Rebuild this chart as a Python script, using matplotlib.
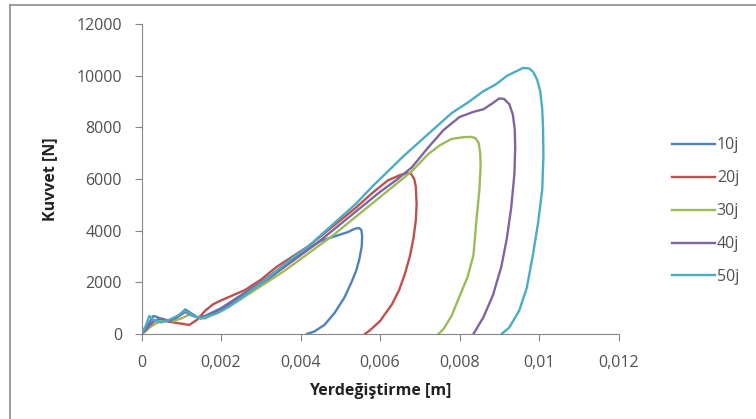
import matplotlib.pyplot as plt
from matplotlib.lines import Line2D
from matplotlib.ticker import FuncFormatter

# Kuvvet - yerdegistirme verileri
labels = ['10j', '20j', '30j', '40j', '50j']
colors = ['#4F81BD', '#C0504D', '#9BBB59', '#8064A2', '#4BACC6']

x10 = [0, 0.0001, 0.0002, 0.0003, 0.0004, 0.0006, 0.0008, 0.0010, 0.0011, 0.0012, 0.0014, 0.0016,
       0.0018, 0.0020, 0.0023, 0.0026, 0.0030, 0.0034, 0.0038, 0.0042, 0.0045, 0.0048, 0.0050,
       0.0052, 0.0053, 0.0054, 0.00548, 0.00553, 0.00555, 0.00554, 0.00548, 0.00540, 0.00528,
       0.00510, 0.00485, 0.00460, 0.00435, 0.00416]
y10 = [0, 200, 450, 700, 650, 500, 550, 800, 950, 850, 650, 700, 850, 1000, 1300, 1600, 2000,
       2450, 2900, 3300, 3600, 3750, 3850, 3950, 4030, 4090, 4100, 4020, 3800, 3400, 2900, 2450,
       2000, 1400, 800, 350, 100, 0]

x20 = [0, 0.0001, 0.0002, 0.0004, 0.0006, 0.0008, 0.0010, 0.0012, 0.0014, 0.0016, 0.0018, 0.0020,
       0.0023, 0.0026, 0.0030, 0.0034, 0.0038, 0.0042, 0.0046, 0.0050, 0.0054, 0.0058, 0.0062,
       0.0065, 0.00668, 0.00678, 0.00686, 0.00690, 0.00692, 0.00690, 0.00684, 0.00675, 0.00662,
       0.00648, 0.00630, 0.00600, 0.00575, 0.00562]
y20 = [0, 150, 300, 450, 500, 450, 400, 350, 550, 900, 1150, 1300, 1500, 1700, 2100, 2600, 3000,
       3400, 3900, 4400, 4900, 5450, 5950, 6150, 6230, 6200, 6000, 5700, 5000, 4400, 3700, 3000,
       2300, 1700, 1150, 500, 150, 0]

x30 = [0, 0.0001, 0.0002, 0.0004, 0.0006, 0.0008, 0.0010, 0.0012, 0.0014, 0.0016, 0.0018, 0.0020,
       0.0024, 0.0028, 0.0032, 0.0036, 0.0040, 0.0044, 0.0048, 0.0052, 0.0056, 0.0060, 0.0064,
       0.0068, 0.0072, 0.0075, 0.0078, 0.0081, 0.0083, 0.0084, 0.00848, 0.00852, 0.00853, 0.00850,
       0.00843, 0.00835, 0.00820, 0.00801, 0.00780, 0.00760, 0.00747]
y30 = [0, 100, 250, 450, 550, 500, 600, 750, 650, 600, 750, 900, 1250, 1650, 2050, 2450, 2900,
       3350, 3800, 4300, 4800, 5300, 5800, 6300, 6950, 7300, 7550, 7620, 7630, 7580, 7400, 7000,
       6500, 5600, 4500, 3050, 2200, 1500, 700, 200, 0]

x40 = [0, 0.0001, 0.0003, 0.0005, 0.0007, 0.0009, 0.0011, 0.0013, 0.0015, 0.0017, 0.0020, 0.0024,
       0.0028, 0.0032, 0.0036, 0.0040, 0.0044, 0.0048, 0.0052, 0.0056, 0.0060, 0.0064, 0.0068,
       0.0072, 0.0076, 0.0080, 0.00835, 0.0086, 0.0088, 0.0090, 0.00912, 0.00925, 0.00934,
       0.00939, 0.00940, 0.00938, 0.00930, 0.00919, 0.00905, 0.00884, 0.00860, 0.00835]
y40 = [0, 150, 500, 600, 500, 650, 850, 700, 600, 750, 950, 1350, 1750, 2150, 2600, 3050, 3500,
       4000, 4500, 5000, 5500, 5950, 6450, 7200, 7900, 8400, 8600, 8700, 8900, 9120, 9100, 8900,
       8500, 7900, 7200, 6200, 4900, 3700, 2600, 1500, 650, 0]

x50 = [0, 0.0001, 0.0002, 0.0003, 0.0005, 0.0007, 0.0009, 0.0011, 0.0013, 0.0015, 0.0017, 0.0019,
       0.0022, 0.0026, 0.0030, 0.0034, 0.0038, 0.0042, 0.0046, 0.0050, 0.0054, 0.0058, 0.0062,
       0.0066, 0.0070, 0.0074, 0.0078, 0.0082, 0.0086, 0.0089, 0.0092, 0.0094, 0.0096, 0.00975,
       0.00985, 0.00995, 0.01003, 0.01008, 0.01010, 0.01011, 0.01008, 0.00998, 0.00985, 0.00969,
       0.00950, 0.00925, 0.00906]
y50 = [0, 300, 700, 550, 450, 550, 700, 900, 700, 600, 700, 800, 1050, 1500, 1950, 2450, 2950,
       3400, 3950, 4500, 5050, 5700, 6300, 6900, 7450, 8000, 8550, 8950, 9400, 9650, 10000, 10150,
       10300, 10280, 10150, 9850, 9400, 8700, 8000, 6900, 5600, 4350, 3100, 1780, 900, 250, 0]

xs = [x10, x20, x30, x40, x50]
ys = [y10, y20, y30, y40, y50]

plt.rcParams['font.family'] = ['Open Sans', 'DejaVu Sans']

fig = plt.figure(figsize=(7.56, 4.19), dpi=100)
ax = fig.add_axes([0.1872, 0.2029, 0.6310, 0.7398])

for x, y, c, lab in zip(xs, ys, colors, labels):
    ax.plot(x, y, color=c, lw=1.7, label=lab, solid_joinstyle='round')

ax.set_xlim(0, 0.012)
ax.set_ylim(0, 12000)
ax.set_xticks([0, 0.002, 0.004, 0.006, 0.008, 0.01, 0.012])
ax.set_yticks(range(0, 12001, 2000))
ax.xaxis.set_major_formatter(FuncFormatter(lambda v, p: ('%g' % round(v, 4)).replace('.', ',')))

for s in ['top', 'right']:
    ax.spines[s].set_visible(False)
for s in ['left', 'bottom']:
    ax.spines[s].set_color('#868686')
    ax.spines[s].set_linewidth(0.8)
ax.tick_params(colors='#868686', length=5, width=0.8, labelsize=11.5, labelcolor='#505050')
ax.tick_params(axis='x', pad=10)
ax.tick_params(axis='y', pad=9)

ax.set_xlabel('Yerdeğiştirme [m]', fontsize=11.5, fontweight='bold', color='#222222', labelpad=9)
ax.set_ylabel('Kuvvet [N]', fontsize=11.5, fontweight='bold', color='#222222', labelpad=13)

fig.legend(loc='center left', bbox_to_anchor=(0.889, 0.496), frameon=False, fontsize=11.5,
           labelspacing=1.06, handlelength=2.7, handletextpad=0.1, borderpad=0, borderaxespad=0,
           labelcolor='#505050')

# dis cerceve (ust ve sol kenar)
fig.add_artist(Line2D([10 / 756, 1], [1 - 5 / 419, 1 - 5 / 419], color='#8c8c8c', lw=1.2))
fig.add_artist(Line2D([10 / 756, 10 / 756], [0, 1 - 5 / 419], color='#8c8c8c', lw=1.2))

fig.savefig('out.png', dpi=100)
